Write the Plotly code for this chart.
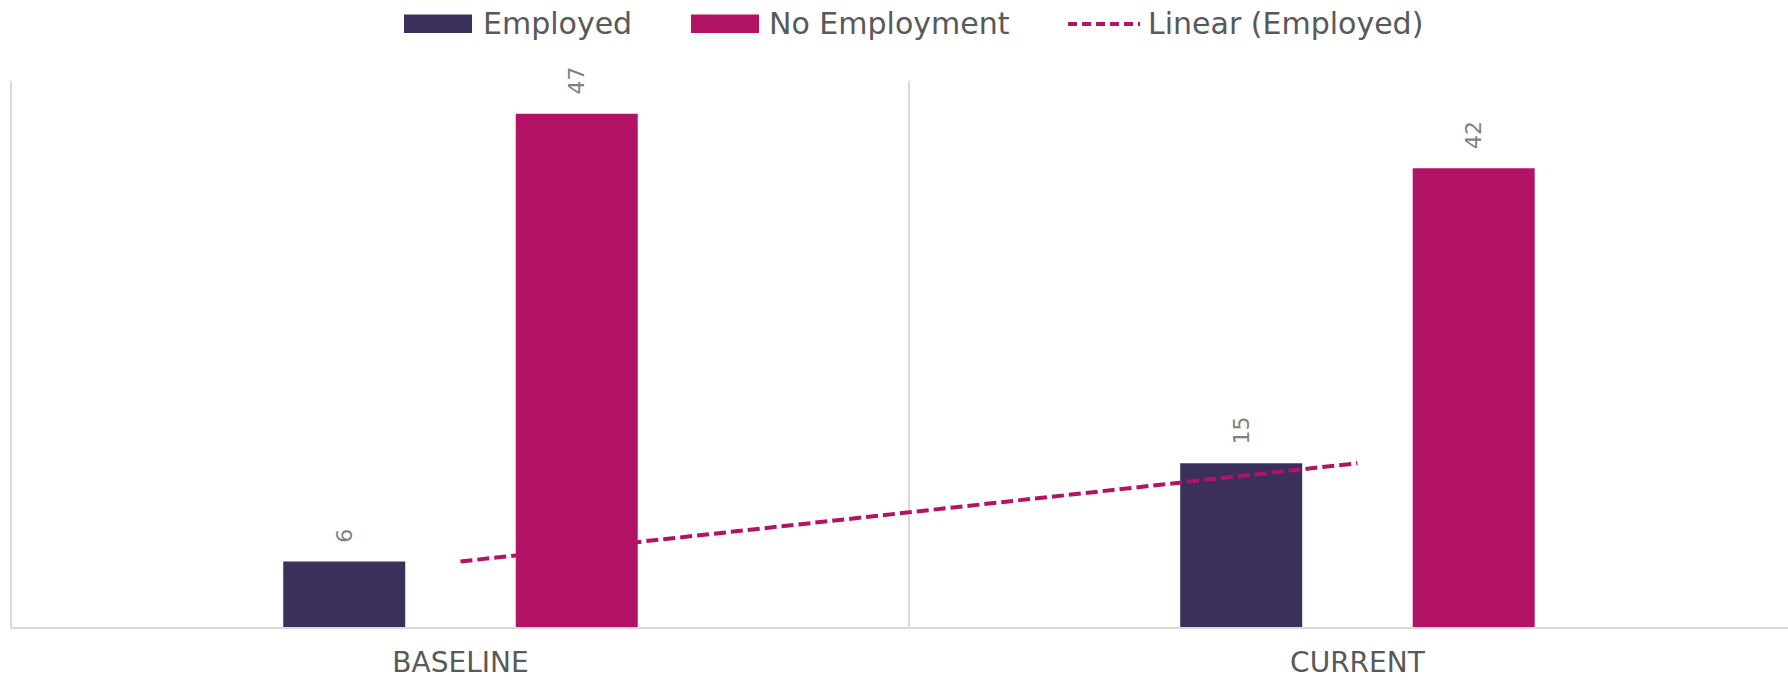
import numpy as np
import plotly.graph_objects as go

categories = ["BASELINE", "CURRENT"]
employed = [6, 15]
no_employment = [47, 42]
legend_names = ["Employed", "No Employment", "Linear (Employed)"]

C_EMP = "#3B3059"
C_NOEMP = "#B31365"
FONT = "DejaVu Sans"

W, H = 1788, 682
ML, MR, MT, MB = 12, 0, 81, 55

xpos = np.arange(len(categories))
BAR_W = 0.136
SHIFT = 0.1296
DASH = "12px,5px"

fig = go.Figure()
fig.add_trace(go.Bar(
    x=xpos, y=employed, name=legend_names[0], marker_color=C_EMP,
    width=BAR_W, offset=-SHIFT - BAR_W / 2, marker_line_width=0, showlegend=False,
))
fig.add_trace(go.Bar(
    x=xpos, y=no_employment, name=legend_names[1], marker_color=C_NOEMP,
    width=BAR_W, offset=SHIFT - BAR_W / 2, marker_line_width=0, showlegend=False,
))

# linear trendline of Employed
coef = np.polyfit(xpos, employed, 1)
trend = np.polyval(coef, xpos)
fig.add_trace(go.Scatter(
    x=xpos, y=trend, mode="lines", name=legend_names[2], showlegend=False,
    line=dict(color=C_NOEMP, width=4, dash=DASH),
))

# data labels
for vals, sgn in ((employed, -1), (no_employment, 1)):
    for i, v in enumerate(vals):
        fig.add_annotation(
            x=xpos[i] + sgn * SHIFT, y=v, text=str(v), showarrow=False,
            textangle=-90, yanchor="bottom", xanchor="center", yshift=17,
            font=dict(family=FONT, size=22, color="#808080"),
        )

# legend (drawn as paper-positioned swatches + text, Excel-style large swatches)
pw = W - ML - MR
ph = H - MT - MB


def px_x(px):
    return (px - ML) / pw


def px_y(py):
    return (H - MB - py) / ph


leg_items = [
    (legend_names[0], C_EMP, "bar", 404, 472, 481),
    (legend_names[1], C_NOEMP, "bar", 691, 759, 767),
    (legend_names[2], C_NOEMP, "line", 1068, 1140, 1146),
]
for name, col, kind, x0, x1, tx in leg_items:
    if kind == "bar":
        fig.add_shape(type="rect", xref="paper", yref="paper",
                      x0=px_x(x0), x1=px_x(x1), y0=px_y(33), y1=px_y(14.5),
                      fillcolor=col, line_width=0)
    else:
        fig.add_shape(type="line", xref="paper", yref="paper",
                      x0=px_x(x0), x1=px_x(x1), y0=px_y(24), y1=px_y(24),
                      line=dict(color=col, width=4, dash="9px,5px"))
    fig.add_annotation(xref="paper", yref="paper", x=px_x(tx), y=px_y(24),
                       text=name, showarrow=False, xanchor="left", yanchor="middle",
                       font=dict(family=FONT, size=30, color="#595959"))

fig.update_layout(
    width=W, height=H,
    margin=dict(l=ML, r=MR, t=MT, b=MB),
    paper_bgcolor="white", plot_bgcolor="white",
    barmode="overlay",
    showlegend=False,
    font=dict(family=FONT, color="#595959"),
)
fig.update_xaxes(
    range=[-0.5, 1.48], tickvals=list(xpos), ticktext=categories,
    showgrid=False, zeroline=False, automargin=False,
    showline=True, linecolor="#d9d9d9", linewidth=2,
    ticks="", ticklabelstandoff=9,
    tickfont=dict(family=FONT, size=28, color="#595959"),
    minor=dict(tickvals=[0.5], showgrid=True, gridcolor="#d9d9d9", gridwidth=1.5, ticks=""),
)
fig.update_yaxes(range=[0, 50], showticklabels=False, showgrid=False, zeroline=False,
                 showline=True, linecolor="#d9d9d9", linewidth=1.5, automargin=False)

fig.write_html("out.html")
